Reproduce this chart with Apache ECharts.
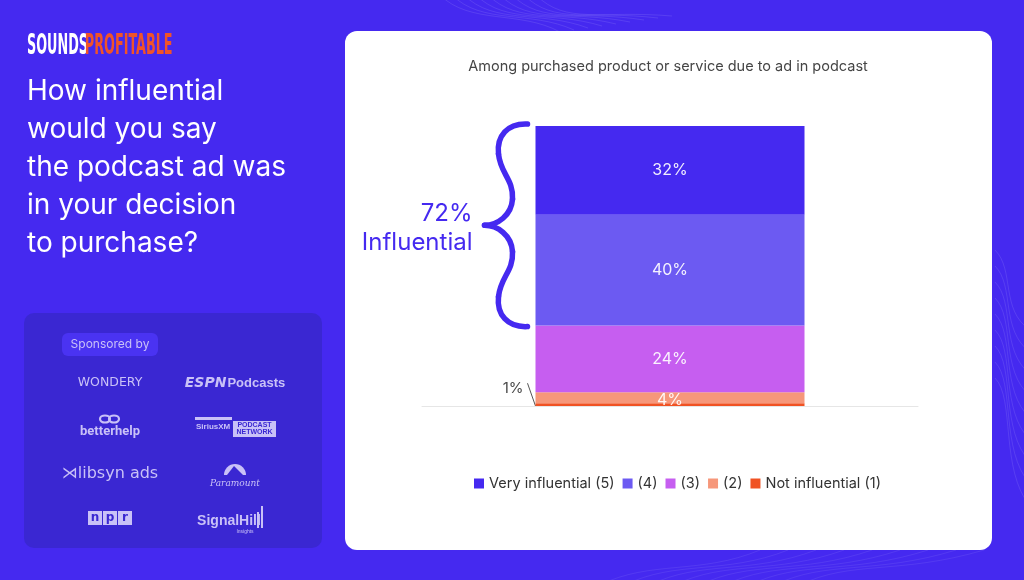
<!DOCTYPE html>
<html>
<head>
<meta charset="utf-8">
<script src="https://cdn.jsdelivr.net/npm/echarts@6/dist/echarts.min.js"></script>
<style>html,body{margin:0;padding:0;background:#4529f0;}#c{width:1024px;height:580px;}</style>
</head>
<body>
<div id="c"></div>
<script>
// ---- data ----
const categories = ['Among purchased product or service due to ad in podcast'];
const seriesNames = ['Not influential (1)', '(2)', '(3)', '(4)', 'Very influential (5)'];
const seriesValues = [1, 4, 24, 40, 32];
const seriesColors = ['#f05223', '#f6977a', '#c65ef0', '#6c5af2', '#4529f0'];
const legendOrder = ['Very influential (5)', '(4)', '(3)', '(2)', 'Not influential (1)'];
const influentialShare = '72%';
const questionLines = ['How influential', 'would you say', 'the podcast ad was', 'in your decision', 'to purchase?'];

const BG = '#4529f0';
const LOGO = '#c9c1f7';
const BOX = '#3a27d2';
const total = seriesValues.reduce((a, b) => a + b, 0);

const chart = echarts.init(document.getElementById('c'), null, {renderer: 'canvas'});

function waves() {
  const els = [];
  for (let i = 0; i < 9; i++) {
    els.push({type: 'bezierCurve', silent: true, z: 0,
      shape: {x1: 440 + i * 12, y1: -5, x2: 560 + i * 14, y2: 32 - i * 2, cpx1: 470 + i * 12, cpy1: 25, cpx2: 520 + i * 10, cpy2: 10},
      style: {stroke: 'rgba(255,255,255,0.10)', lineWidth: 1, fill: null}});
    els.push({type: 'bezierCurve', silent: true, z: 0,
      shape: {x1: 995, y1: 250 + i * 16, x2: 1030, y2: 330 + i * 22, cpx1: 1015, cpy1: 270 + i * 16, cpx2: 1000, cpy2: 310 + i * 20},
      style: {stroke: 'rgba(255,255,255,0.10)', lineWidth: 1, fill: null}});
    els.push({type: 'bezierCurve', silent: true, z: 0,
      shape: {x1: 600 + i * 25, y1: 585, x2: 760 + i * 28, y2: 550, cpx1: 650 + i * 25, cpy1: 560, cpx2: 700 + i * 25, cpy2: 575},
      style: {stroke: 'rgba(255,255,255,0.08)', lineWidth: 1, fill: null}});
  }
  return els;
}

const staticGraphics = [
  ...waves(),
  // logo
  {type: 'group', x: 27, y: 32, scaleX: 0.49, children: [
    {type: 'text', style: {x: 0, y: 0, text: 'SOUNDS', fill: '#ffffff', font: 'bold 29px "DejaVu Sans Condensed", "DejaVu Sans"', verticalAlign: 'top'}},
    {type: 'text', style: {x: 118, y: 0, text: 'PROFITABLE', fill: '#f0532a', font: 'bold 29px "DejaVu Sans Condensed", "DejaVu Sans"', verticalAlign: 'top'}}
  ]},
  // question
  ...questionLines.map((t, i) => ({type: 'text', style: {x: 27, y: 92 + i * 38, text: t, fill: '#ffffff', font: '400 28px Inter, "Noto Sans", sans-serif', verticalAlign: 'middle'}})),
  // sponsor box
  {type: 'rect', shape: {x: 24, y: 313, width: 298, height: 235, r: 10}, style: {fill: BOX}},
  {type: 'rect', shape: {x: 62, y: 333, width: 96, height: 23, r: 6}, style: {fill: '#4a33f2'}},
  {type: 'text', style: {x: 110, y: 344.5, text: 'Sponsored by', fill: LOGO, font: '12px Inter, sans-serif', align: 'center', verticalAlign: 'middle'}},
  {type: 'text', style: {x: 110, y: 383, text: 'WONDERY', fill: LOGO, font: '12.5px "DejaVu Sans", sans-serif', align: 'center', verticalAlign: 'middle'}},
  {type: 'text', style: {x: 235, y: 383, text: '{a|ESPN}{b|Podcasts}', fill: LOGO, align: 'center', verticalAlign: 'middle',
    rich: {a: {fill: LOGO, font: 'italic 900 14px "DejaVu Sans", sans-serif'}, b: {fill: LOGO, font: 'bold 13px "Liberation Sans", sans-serif', padding: [0, 0, 0, 1]}}}},
  // betterhelp
  {type: 'ellipse', shape: {cx: 105, cy: 419, rx: 5, ry: 3.5}, style: {stroke: LOGO, lineWidth: 2.2, fill: null}},
  {type: 'ellipse', shape: {cx: 114, cy: 419, rx: 5, ry: 3.5}, style: {stroke: LOGO, lineWidth: 2.2, fill: null}},
  {type: 'text', style: {x: 110, y: 432, text: 'betterhelp', fill: LOGO, font: 'bold 13px Roboto, sans-serif', align: 'center', verticalAlign: 'middle'}},
  // siriusxm
  {type: 'rect', shape: {x: 195, y: 417, width: 37, height: 3}, style: {fill: LOGO}},
  {type: 'text', style: {x: 196, y: 427, text: 'SiriusXM', fill: LOGO, font: 'bold 8px "Liberation Sans", sans-serif', verticalAlign: 'middle'}},
  {type: 'rect', shape: {x: 233, y: 421, width: 43, height: 16}, style: {fill: LOGO}},
  {type: 'text', style: {x: 254.5, y: 429, text: 'PODCAST\nNETWORK', fill: BOX, font: 'bold 7px "Liberation Sans", sans-serif', align: 'center', verticalAlign: 'middle', lineHeight: 7}},
  // libsyn
  {type: 'text', style: {x: 110, y: 474, text: '⋊libsyn ads', fill: LOGO, font: '16px "DejaVu Sans", sans-serif', align: 'center', verticalAlign: 'middle'}},
  // paramount
  {type: 'sector', shape: {cx: 235, cy: 475, r0: 0, r: 11, startAngle: Math.PI, endAngle: 2 * Math.PI}, style: {fill: LOGO}},
  {type: 'polygon', shape: {points: [[227, 475], [234, 466], [243, 475]]}, style: {fill: BOX}},
  {type: 'text', style: {x: 235, y: 484, text: 'Paramount', fill: LOGO, font: 'italic 9px "DejaVu Serif", serif', align: 'center', verticalAlign: 'middle'}},
  // npr
  ...['n', 'p', 'r'].map((ch, i) => ({type: 'group', children: [
    {type: 'rect', shape: {x: 88 + i * 15, y: 511, width: 14, height: 14}, style: {fill: LOGO}},
    {type: 'text', style: {x: 95 + i * 15, y: 518, text: ch, fill: BOX, font: 'bold 12px "DejaVu Sans", sans-serif', align: 'center', verticalAlign: 'middle'}}
  ]})),
  // signalhill
  {type: 'text', style: {x: 229, y: 521, text: 'SignalHill', fill: LOGO, font: 'bold 14px "Liberation Sans", sans-serif', align: 'center', verticalAlign: 'middle'}},
  {type: 'rect', shape: {x: 261, y: 506, width: 2, height: 22}, style: {fill: LOGO}},
  {type: 'rect', shape: {x: 257, y: 512, width: 2, height: 16}, style: {fill: LOGO}},
  {type: 'text', style: {x: 245, y: 532, text: 'Insights', fill: LOGO, font: '5px "Liberation Sans", sans-serif', align: 'center', verticalAlign: 'middle'}},
  // card
  {type: 'rect', z: -1, shape: {x: 345, y: 31, width: 647, height: 519, r: 12}, style: {fill: '#ffffff'}},
  {type: 'text', style: {x: 668, y: 67, text: categories[0], fill: '#454545', font: '14.5px Inter, sans-serif', align: 'center', verticalAlign: 'middle'}}
];

const option = {
  backgroundColor: BG,
  animation: false,
  grid: {left: 422, right: 106, top: 126, bottom: 174},
  xAxis: {type: 'category', data: categories, axisLine: {show: true, lineStyle: {color: '#e6e6e6', width: 1}},
    axisTick: {show: false}, axisLabel: {show: false}},
  yAxis: {type: 'value', min: 0, max: total, show: false, splitLine: {show: false}},
  legend: {data: legendOrder, left: 469, top: 471, itemWidth: 10, itemHeight: 10, itemGap: 8, icon: 'rect',
    textStyle: {color: '#333', fontSize: 14.5, fontFamily: 'Inter, sans-serif'}},
  series: seriesNames.map((name, i) => ({
    name, type: 'bar', stack: 'total', data: [seriesValues[i]], barWidth: 269,
    itemStyle: {color: seriesColors[i]},
    label: i === 0
      ? {show: true, position: 'left', offset: [-2, -16], distance: 10, color: '#4a4a4a', fontSize: 15, fontFamily: 'Inter, sans-serif', formatter: '{c}%'}
      : {show: true, position: 'inside', offset: i === 1 ? [0, 3] : [0, 0], color: 'rgba(255,255,255,0.92)', fontSize: 16, fontFamily: 'Inter, sans-serif', formatter: '{c}%'}
  })),
  graphic: {elements: staticGraphics}
};
chart.setOption(option);

// annotation positioned from the chart's own scales
const topY = chart.convertToPixel({yAxisIndex: 0}, total) - 2;
const infTop = total - seriesValues[4] - seriesValues[3];
const botY = chart.convertToPixel({yAxisIndex: 0}, infTop) + 1;
const cx = chart.convertToPixel({xAxisIndex: 0}, categories[0]);
const barLeft = cx - 269 / 2;
const xr = barLeft - 8;
const ym = (topY + botY) / 2;
function seg(x1, y1, c1x, c1y, c2x, c2y, x2, y2) {
  return {type: 'bezierCurve', shape: {x1, y1, cpx1: c1x, cpy1: c1y, cpx2: c2x, cpy2: c2y, x2, y2},
    style: {stroke: BG, lineWidth: 5.5, fill: null, lineCap: 'round'}};
}
const brace = [
  seg(xr, topY, xr - 20, topY - 1, xr - 31, topY + 12, xr - 29, topY + 30),
  seg(xr - 29, topY + 30, xr - 27, topY + 50, xr - 14, topY + 55, xr - 15, topY + 75),
  seg(xr - 15, topY + 75, xr - 16, ym - 10, xr - 30, ym, xr - 43, ym),
  seg(xr - 43, ym, xr - 30, ym, xr - 16, ym + 10, xr - 15, botY - 75),
  seg(xr - 15, botY - 75, xr - 14, botY - 55, xr - 27, botY - 50, xr - 29, botY - 30),
  seg(xr - 29, botY - 30, xr - 31, botY - 12, xr - 20, botY + 1, xr, botY)
];
const oneTop = chart.convertToPixel({yAxisIndex: 0}, seriesValues[0]);
const zeroY = chart.convertToPixel({yAxisIndex: 0}, 0);
chart.setOption({graphic: {elements: staticGraphics.concat(brace, [
  {type: 'text', style: {x: xr - 55, y: ym - 12, text: influentialShare, fill: BG, font: '24px Inter, sans-serif', align: 'right', verticalAlign: 'middle'}},
  {type: 'text', style: {x: xr - 55, y: ym + 17, text: 'Influential', fill: BG, font: '24px Inter, sans-serif', align: 'right', verticalAlign: 'middle'}},
  {type: 'line', shape: {x1: barLeft - 8, y1: oneTop - 20, x2: barLeft, y2: zeroY}, style: {stroke: '#555', lineWidth: 1}}
])}});
</script>
</body>
</html>
